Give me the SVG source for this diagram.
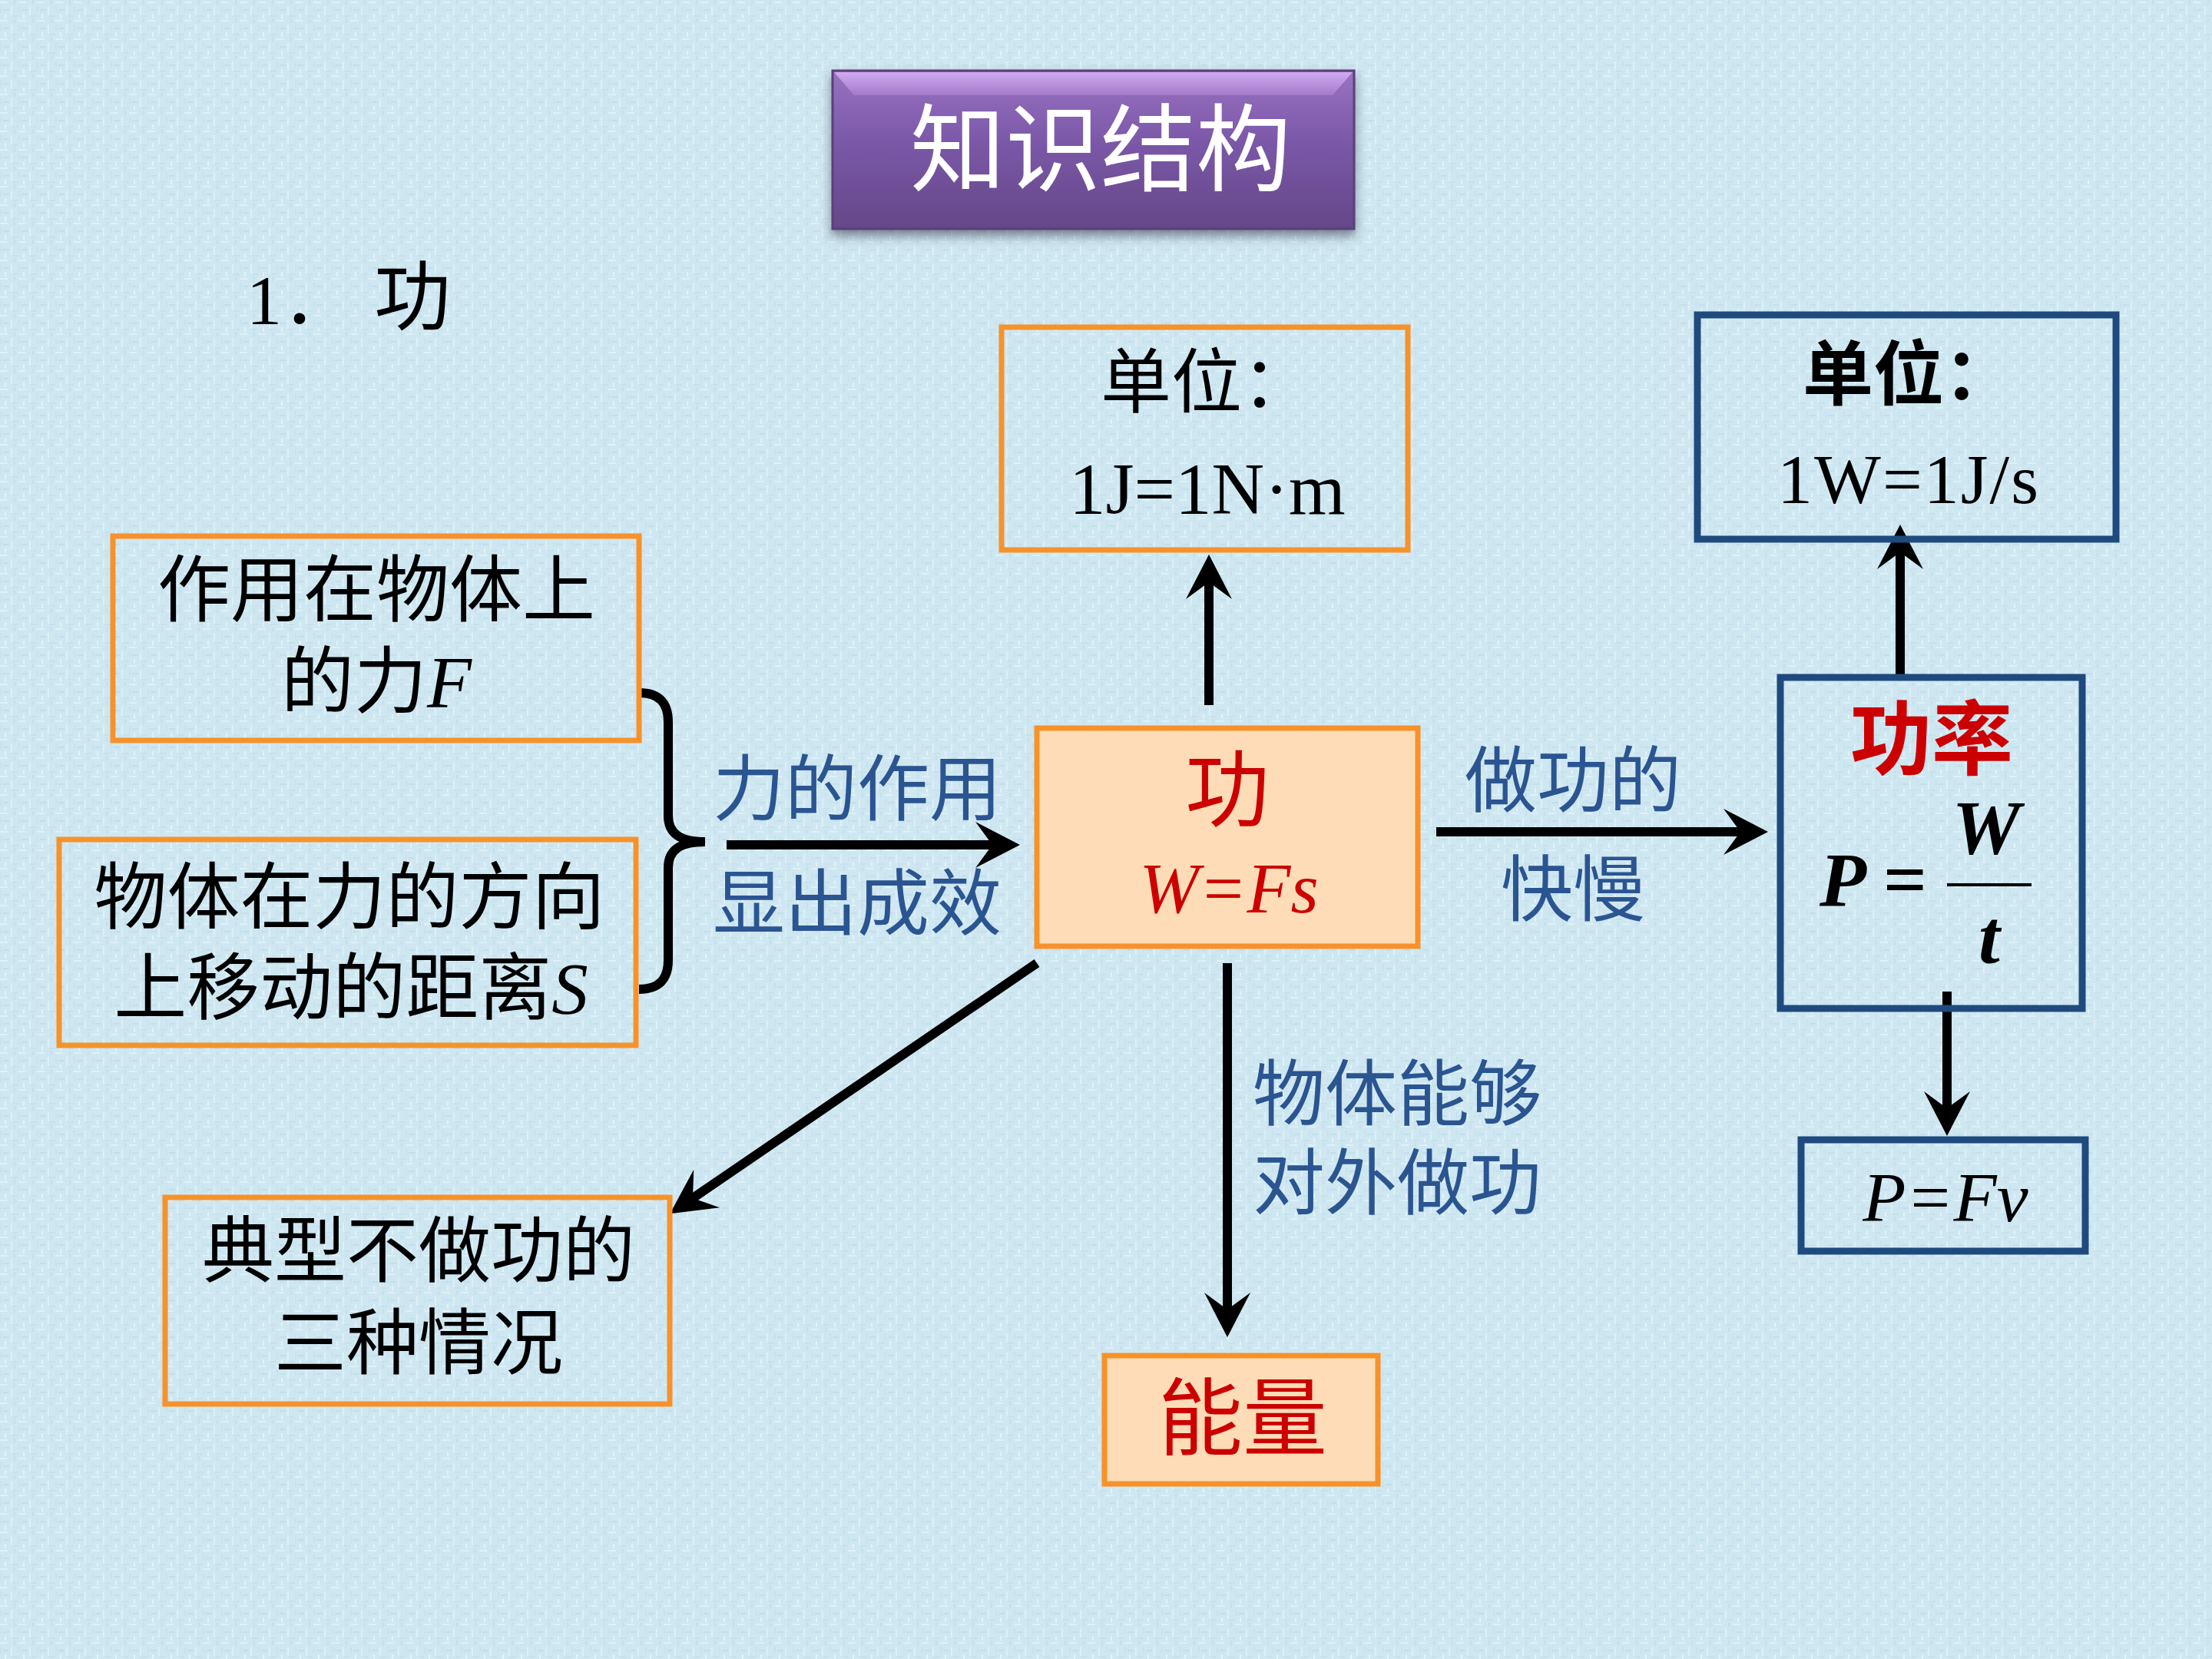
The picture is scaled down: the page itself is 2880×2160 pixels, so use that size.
<svg xmlns="http://www.w3.org/2000/svg" width="2880" height="2160" viewBox="0 0 2880 2160">
<defs>
<style>
.cn{font-family:"Noto Sans CJK SC","Noto Sans",sans-serif}
.tm{font-family:"Liberation Serif","Noto Sans CJK SC",serif}
.k{fill:#000}
.bl{fill:#2B5591}
.rd{fill:#CC0000}
.ob{fill:none;stroke:#F7922A;stroke-width:7}
.ofill{fill:#FDDCB7;stroke:#F7922A;stroke-width:7}
.nb{fill:none;stroke:#1F4A7E;stroke-width:9}
.conn line,.conn path{stroke:#000;stroke-width:12;fill:none}
</style>
<pattern id="bg" width="24" height="24" patternUnits="userSpaceOnUse">
<rect width="24" height="24" fill="#CFE7F1"/>
<rect x="0" y="2" width="10" height="2" fill="#DDF1F8"/>
<rect x="14" y="8" width="2" height="12" fill="#DCF0F8"/>
<rect x="4" y="12" width="8" height="2" fill="#C2DFEC"/>
<rect x="18" y="0" width="2" height="6" fill="#C4E0EC"/>
<rect x="6" y="18" width="2" height="6" fill="#E0F3FA"/>
<rect x="16" y="20" width="8" height="2" fill="#C6E1ED"/>
<rect x="0" y="8" width="2" height="8" fill="#C8E2EE"/>
</pattern>
<linearGradient id="purp" x1="0" y1="0" x2="0" y2="1">
<stop offset="0" stop-color="#9A72C2"/>
<stop offset="0.45" stop-color="#7B58A8"/>
<stop offset="1" stop-color="#654789"/>
</linearGradient>
<linearGradient id="hl" x1="0" y1="0" x2="0" y2="1">
<stop offset="0" stop-color="#D8B0F6"/>
<stop offset="1" stop-color="#A47CCB"/>
</linearGradient>
<filter id="sh" x="-10%" y="-10%" width="120%" height="130%">
<feDropShadow dx="0" dy="8" stdDeviation="7" flood-color="#334" flood-opacity="0.55"/>
</filter>
<marker id="ah" markerUnits="userSpaceOnUse" markerWidth="60" markerHeight="62" refX="22" refY="30" orient="auto" overflow="visible">
<path d="M0,0 L58,30 L0,60 L22,30 Z" fill="#000"/>
</marker>
</defs>
<rect width="2880" height="2160" fill="url(#bg)"/>

<g id="title">
<rect x="1084" y="92" width="679" height="206" fill="url(#purp)" stroke="#5A3F7A" stroke-width="3" filter="url(#sh)"/>
<polygon points="1086,94 1761,94 1735,124 1112,124" fill="url(#hl)" opacity="0.9"/>
<text x="1433" y="239" class="cn" font-size="124" fill="#FFFFFF" text-anchor="middle">知识结构</text>
</g>

<g id="heading">
<text y="422" class="tm" font-size="92" fill="#000"><tspan x="321">1</tspan><tspan x="368" class="cn">．</tspan><tspan x="487" class="cn" font-size="100">功</tspan></text>
</g>

<g class="conn" id="connectors">
<path d="M832,902 C858,902 870,915 870,940 L870,1062 C870,1085 885,1096 918,1096 C885,1096 870,1107 870,1130 L870,1250 C870,1275 858,1288 832,1288" stroke-width="8"/>
<line x1="946" y1="1100" x2="1292" y2="1100" marker-end="url(#ah)"/>
<line x1="1574" y1="918" x2="1574" y2="758" marker-end="url(#ah)"/>
<line x1="1870" y1="1083" x2="2266" y2="1083" marker-end="url(#ah)"/>
<line x1="2474" y1="878" x2="2474" y2="719" marker-end="url(#ah)"/>
<line x1="2535" y1="1291" x2="2535" y2="1443" marker-end="url(#ah)"/>
<line x1="1598" y1="1254" x2="1598" y2="1705" marker-end="url(#ah)"/>
<line x1="1350" y1="1254" x2="902" y2="1560" marker-end="url(#ah)"/>
</g>

<g id="label-force">
<text class="cn bl" font-size="94" text-anchor="middle"><tspan x="1116" y="1061">力的作用</tspan><tspan x="1116" y="1210">显出成效</tspan></text>
</g>
<g id="label-speed">
<text class="cn bl" font-size="94" text-anchor="middle"><tspan x="2048" y="1050">做功的</tspan><tspan x="2048" y="1192">快慢</tspan></text>
</g>
<g id="label-energy">
<text class="cn bl" font-size="94"><tspan x="1631" y="1458">物体能够</tspan><tspan x="1631" y="1574">对外做功</tspan></text>
</g>

<g id="node-force">
<rect x="147" y="698" width="685" height="266" class="ob"/>
<text class="cn k" font-size="95" text-anchor="middle"><tspan x="490" y="802">作用在物体上</tspan><tspan x="490" y="921">的力<tspan class="tm" font-style="italic">F</tspan></tspan></text>
</g>

<g id="node-distance">
<rect x="77" y="1093" width="751" height="268" class="ob"/>
<text class="cn k" font-size="95" text-anchor="middle"><tspan x="455" y="1202">物体在力的方向</tspan><tspan x="457" y="1320">上移动的距离<tspan class="tm" font-style="italic">S</tspan></tspan></text>
</g>

<g id="node-work">
<rect x="1350" y="948" width="496" height="284" class="ofill"/>
<text x="1598" y="1068" class="cn rd" font-size="110" text-anchor="middle">功</text>
<text x="1600" y="1188" class="tm rd" font-size="93" font-style="italic" text-anchor="middle">W=Fs</text>
</g>

<g id="node-unit-work">
<rect x="1304" y="426" width="529" height="290" class="ob"/>
<text x="1433" y="530" class="cn k" font-size="92">单位：</text>
<text x="1392" y="669" class="tm k" font-size="95">1J=1N·m</text>
</g>

<g id="node-power">
<rect x="2318" y="882" width="393" height="431" fill="#D0DBEA" class="nb"/>
<text x="2515" y="1000" class="cn rd" font-size="106" font-weight="bold" text-anchor="middle">功率</text>
<text x="2369" y="1179" class="tm k" font-size="100" font-weight="bold" font-style="italic">P</text>
<text x="2452" y="1179" class="tm k" font-size="100" font-weight="bold">=</text>
<line x1="2535" y1="1152" x2="2645" y2="1152" stroke="#000" stroke-width="4"/>
<text x="2586" y="1111" class="tm k" font-size="100" font-weight="bold" font-style="italic" text-anchor="middle">W</text>
<text x="2590" y="1254" class="tm k" font-size="100" font-weight="bold" font-style="italic" text-anchor="middle">t</text>
</g>

<g id="node-unit-power">
<rect x="2210" y="410" width="545" height="292" class="nb"/>
<text x="2347" y="520" class="cn k" font-size="92" font-weight="bold">单位：</text>
<text x="2485" y="655" class="tm k" font-size="92" text-anchor="middle" letter-spacing="2">1W=1J/s</text>
</g>

<g id="node-pfv">
<rect x="2345" y="1484" width="370" height="145" class="nb"/>
<text x="2533" y="1590" class="tm k" font-size="92" font-style="italic" text-anchor="middle">P=Fv</text>
</g>

<g id="node-energy">
<rect x="1438" y="1765" width="356" height="167" class="ofill"/>
<text x="1618" y="1886" class="cn rd" font-size="110" text-anchor="middle">能量</text>
</g>

<g id="node-nowork">
<rect x="215" y="1559" width="657" height="269" class="ob"/>
<text class="cn k" font-size="94" text-anchor="middle"><tspan x="545" y="1662">典型不做功的</tspan><tspan x="545" y="1782">三种情况</tspan></text>
</g>
</svg>
